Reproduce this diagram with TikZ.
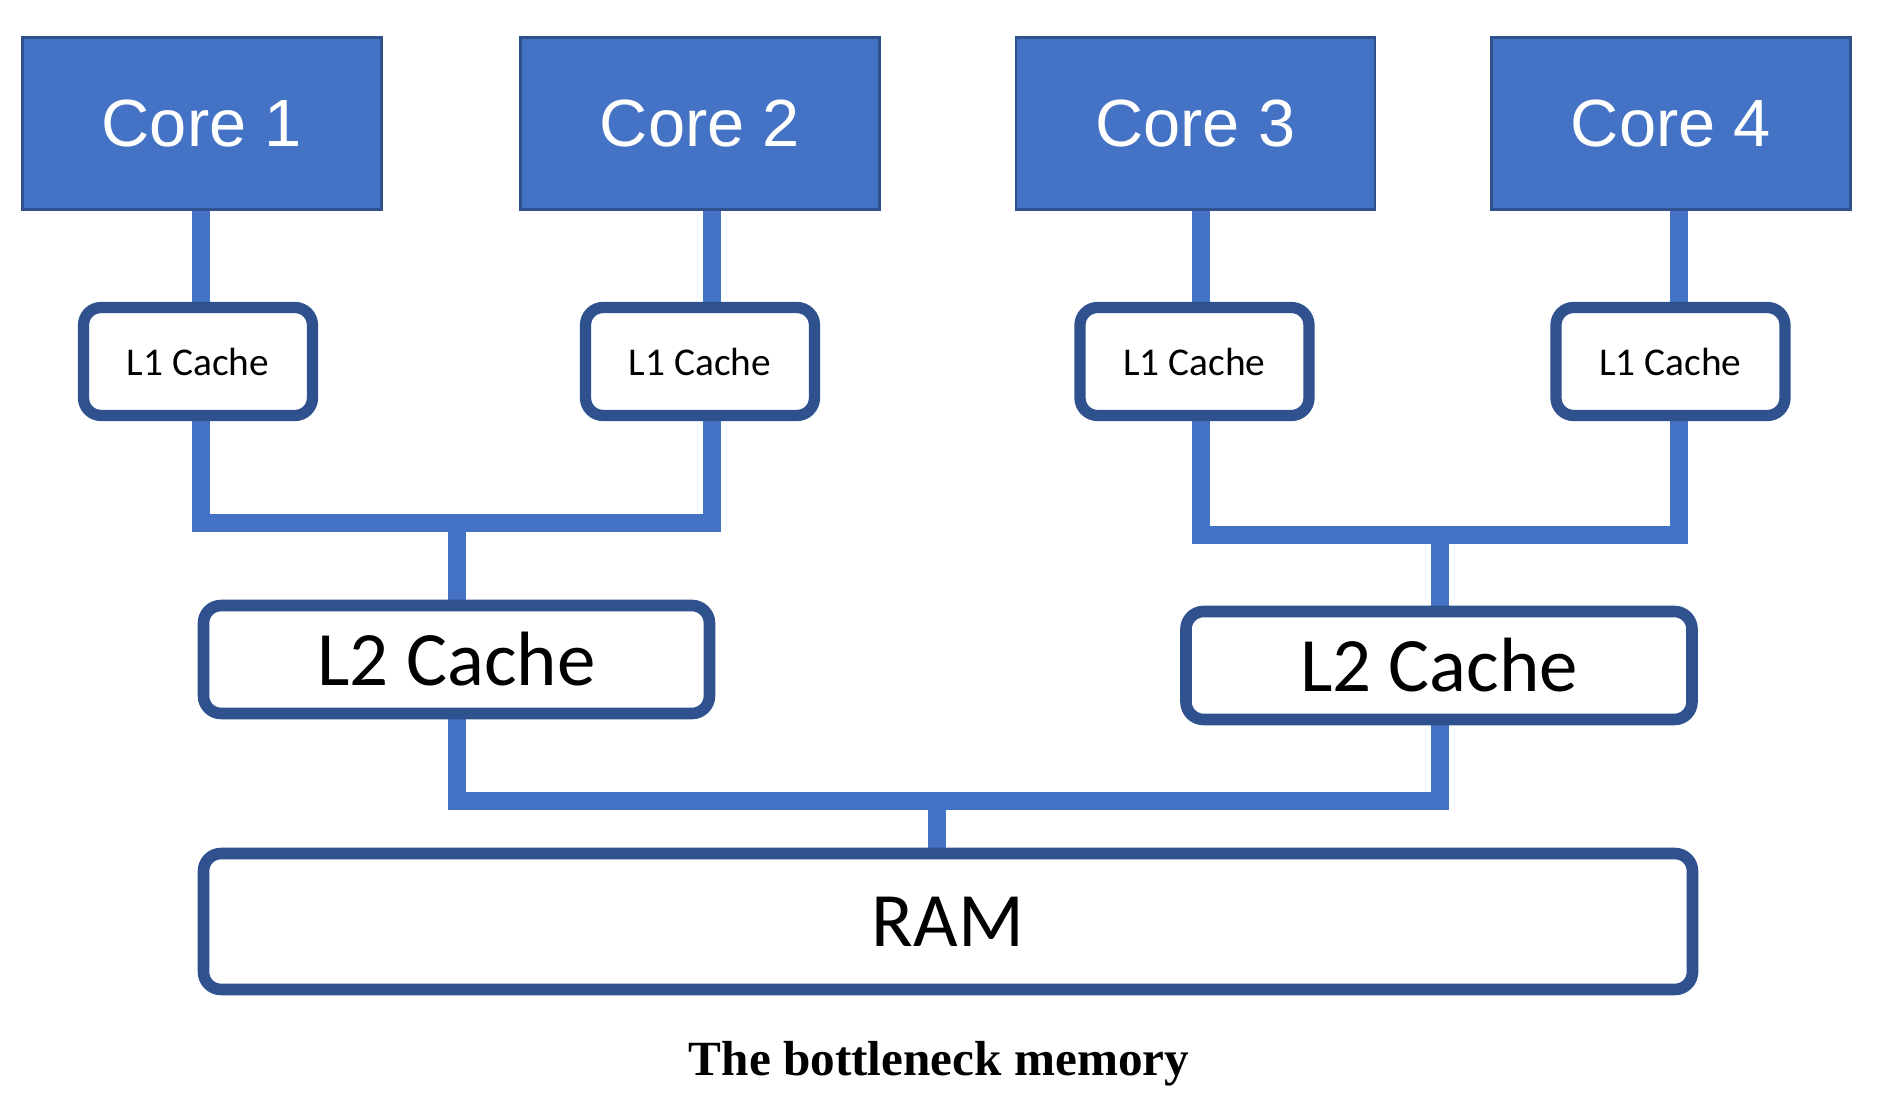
\documentclass[tikz,border=0pt]{standalone}
\usepackage{fontspec}
\setmainfont{Liberation Serif}
\newfontfamily\corefont{Liberation Sans}
\newfontfamily\cachefont{Carlito}
\definecolor{coreblue}{RGB}{68,114,196}
\definecolor{cachedark}{RGB}{47,82,143}
\usetikzlibrary{backgrounds}

\begin{document}
\begin{tikzpicture}[
  core/.style={draw=cachedark,line width=0.6pt,fill=coreblue,text=white,inner sep=0pt,
    minimum width=3.59cm,minimum height=1.72cm,font=\corefont\fontsize{19}{21}\selectfont},
  lonebox/.style={draw=cachedark,line width=3.2pt,fill=white,rounded corners=5pt,inner sep=0pt,
    minimum width=2.29cm,minimum height=1.08cm,font=\cachefont\fontsize{11.2}{13}\selectfont},
  ltwobox/.style={draw=cachedark,line width=3.3pt,fill=white,rounded corners=5pt,inner sep=0pt,
    minimum width=5.06cm,minimum height=1.08cm,font=\cachefont\fontsize{21.9}{24}\selectfont},
  bus/.style={draw=coreblue,line width=5pt}
]
  \useasboundingbox (0,0) rectangle (18.78,-10.97);

  % cores
  \node[core] (c1) at (2.02,-1.235) {Core 1};
  \node[core] (c2) at (7.00,-1.235) {Core 2};
  \node[core] (c3) at (11.955,-1.235) {Core 3};
  \node[core] (c4) at (16.71,-1.235) {Core 4};

  % L1 caches
  \node[lonebox] (l11) at (1.98,-3.615) {L1 Cache};
  \node[lonebox] (l12) at (7.00,-3.615) {L1 Cache};
  \node[lonebox] (l13) at (11.945,-3.615) {L1 Cache};
  \node[lonebox] (l14) at (16.705,-3.615) {L1 Cache};

  % L2 caches
  \node[ltwobox] (l2a) at (4.565,-6.595) {L2 Cache};
  \node[ltwobox] (l2b) at (14.39,-6.655) {L2 Cache};

  % RAM
  \node[ltwobox,minimum width=14.89cm,minimum height=1.36cm] (ram) at (9.48,-9.215) {RAM};

  % caption
  \node[anchor=base,font=\bfseries\fontsize{14}{16}\selectfont] (cap) at (9.39,-10.75) {The bottleneck memory};

  % wiring
  \coordinate (x1) at (2.01,0);
  \coordinate (x2) at (7.12,0);
  \coordinate (x3) at (12.01,0);
  \coordinate (x4) at (16.79,0);
  \coordinate (j1) at (4.57,-5.23);
  \coordinate (j2) at (14.40,-5.35);
  \coordinate (j3) at (9.37,-8.01);
  \begin{pgfonlayer}{background}
    \draw[bus] (c1.south -| x1) -- (l11.north -| x1);
    \draw[bus] (c2.south -| x2) -- (l12.north -| x2);
    \draw[bus] (c3.south -| x3) -- (l13.north -| x3);
    \draw[bus] (c4.south -| x4) -- (l14.north -| x4);
    \draw[bus] (l11.south -| x1) |- (j1) -| (l12.south -| x2);
    \draw[bus] (l13.south -| x3) |- (j2) -| (l14.south -| x4);
    \draw[bus] (j1) -- (l2a.north -| j1);
    \draw[bus] (j2) -- (l2b.north -| j2);
    \draw[bus] (l2a.south -| j1) |- (j3) -| (l2b.south -| j2);
    \draw[bus] (j3) -- (ram.north -| j3);
  \end{pgfonlayer}
\end{tikzpicture}
\end{document}
